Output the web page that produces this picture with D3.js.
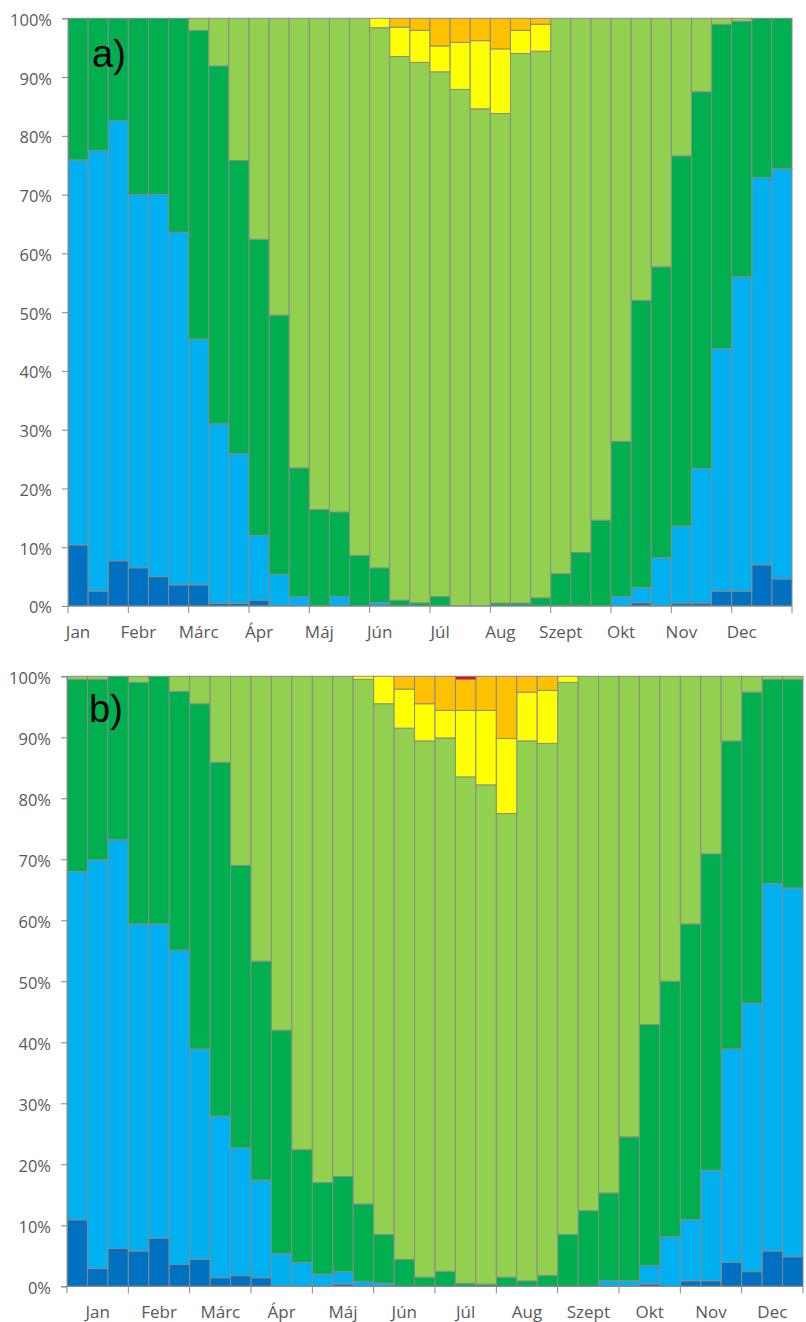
<!DOCTYPE html>
<html>
<head>
<meta charset="utf-8">
<script src="https://cdn.jsdelivr.net/npm/d3@7"></script>
<style>
  html, body { margin: 0; padding: 0; background: #ffffff; }
  svg { display: block; }
  .ylab, .xlab { font-family: "Open Sans", sans-serif; fill: #595959; }
  .panel-tag { font-family: "Liberation Sans", Arial, sans-serif; fill: #000; }
</style>
</head>
<body>
<svg id="chart" width="806" height="1322"></svg>
<script>
// Month labels along the x axis (three dekads per month)
const months = ["Jan", "Febr", "Márc", "Ápr", "Máj", "Jún", "Júl", "Aug", "Szept", "Okt", "Nov", "Dec"];
const dekads = d3.range(36);
const yTicks = [0, 10, 20, 30, 40, 50, 60, 70, 80, 90, 100];

// Class order from the bottom of each bar to the top
const classKeys = ["darkBlue", "lightBlue", "darkGreen", "lightGreen", "yellow", "orange", "red"];
const classColors = ["#0070C0", "#00B0F0", "#00B050", "#92D050", "#FFFF00", "#FFC000", "#FF0000"];

// Panel a) shares per dekad (%)
const aDarkBlue = [10.4, 2.55, 7.7, 6.5, 5.0, 3.6, 3.6, 0.45, 0.45, 1.0, 0, 0,
  0, 0, 0, 0, 0, 0, 0, 0, 0, 0, 0, 0,
  0, 0, 0, 0, 0.55, 0, 0.5, 0.5, 2.55, 2.55, 7.0, 4.6];
const aLightBlue = [65.5, 75.0, 74.9, 63.5, 65.0, 60.0, 41.8, 30.55, 25.45, 11.0, 5.4, 1.6,
  0, 1.6, 0, 0.6, 0, 0, 0, 0, 0, 0, 0, 0,
  0, 0, 0, 1.6, 2.55, 8.2, 13.1, 22.9, 41.25, 53.45, 65.9, 69.8];
const aDarkGreen = [24.1, 22.5, 17.4, 30.0, 30.0, 36.4, 52.55, 60.9, 49.9, 50.4, 44.1, 21.9,
  16.4, 14.4, 8.6, 5.9, 1.0, 0.55, 1.6, 0, 0, 0.5, 0.5, 1.4,
  5.5, 9.1, 14.6, 26.4, 48.9, 49.5, 63.0, 64.1, 55.2, 43.5, 27.1, 25.6];
const aLightGreen = [0, 0, 0, 0, 0, 0, 2.05, 8.1, 24.2, 37.6, 50.5, 76.5,
  83.6, 84.0, 91.4, 91.9, 92.5, 91.95, 89.3, 87.9, 84.6, 83.3, 93.5, 93.0,
  94.5, 90.9, 85.4, 72.0, 48.0, 42.3, 23.4, 12.5, 1.0, 0.5, 0, 0];
const aYellow = [0, 0, 0, 0, 0, 0, 0, 0, 0, 0, 0, 0,
  0, 0, 0, 1.6, 5.0, 5.45, 4.4, 8.0, 11.6, 11.0, 3.95, 4.6,
  0, 0, 0, 0, 0, 0, 0, 0, 0, 0, 0, 0];
const aOrange = [0, 0, 0, 0, 0, 0, 0, 0, 0, 0, 0, 0,
  0, 0, 0, 0, 1.5, 2.05, 4.7, 4.1, 3.8, 5.2, 2.05, 1.0,
  0, 0, 0, 0, 0, 0, 0, 0, 0, 0, 0, 0];
const aRed = [0, 0, 0, 0, 0, 0, 0, 0, 0, 0, 0, 0,
  0, 0, 0, 0, 0, 0, 0, 0, 0, 0, 0, 0,
  0, 0, 0, 0, 0, 0, 0, 0, 0, 0, 0, 0];

// Panel b) shares per dekad (%)
const bDarkBlue = [10.9, 2.9, 6.2, 5.8, 7.9, 3.6, 4.4, 1.4, 1.75, 1.4, 0, 0,
  0, 0.4, 0, 0, 0, 0, 0, 0, 0, 0, 0, 0,
  0, 0, 0, 0, 0.4, 0, 0.9, 0.9, 3.9, 2.4, 5.8, 4.85];
const bLightBlue = [57.1, 67.0, 67.0, 53.6, 51.5, 51.5, 34.5, 26.5, 20.95, 16.0, 5.35, 3.9,
  2.0, 2.0, 0.8, 0.5, 0, 0, 0, 0, 0, 0, 0, 0,
  0, 0, 0.9, 0.9, 3.0, 8.1, 10.0, 18.1, 35.0, 44.0, 60.2, 60.45];
const bDarkGreen = [31.5, 29.6, 26.8, 39.6, 40.6, 42.4, 56.6, 58.0, 46.3, 35.9, 36.65, 18.5,
  15.0, 15.6, 12.7, 8.0, 4.4, 1.5, 2.45, 0.5, 0.35, 1.5, 0.9, 1.8,
  8.5, 12.4, 14.4, 23.6, 39.5, 41.9, 48.5, 51.9, 50.5, 51.0, 33.5, 34.2];
const bLightGreen = [0.5, 0.5, 0, 1.0, 0, 2.5, 4.5, 14.1, 31.0, 46.7, 58.0, 77.6,
  83.0, 82.0, 86.0, 87.0, 87.1, 87.9, 87.45, 83.0, 81.85, 76.0, 88.5, 87.2,
  90.5, 87.6, 84.7, 75.5, 57.1, 50.0, 40.6, 29.1, 10.6, 2.6, 0.5, 0.5];
const bYellow = [0, 0, 0, 0, 0, 0, 0, 0, 0, 0, 0, 0,
  0, 0, 0.5, 4.5, 6.4, 6.1, 4.5, 10.9, 12.2, 12.3, 8.0, 8.7,
  1.0, 0, 0, 0, 0, 0, 0, 0, 0, 0, 0, 0];
const bOrange = [0, 0, 0, 0, 0, 0, 0, 0, 0, 0, 0, 0,
  0, 0, 0, 0, 2.1, 4.5, 5.6, 5.1, 5.6, 10.2, 2.6, 2.3,
  0, 0, 0, 0, 0, 0, 0, 0, 0, 0, 0, 0];
const bRed = [0, 0, 0, 0, 0, 0, 0, 0, 0, 0, 0, 0,
  0, 0, 0, 0, 0, 0, 0, 0.5, 0, 0, 0, 0,
  0, 0, 0, 0, 0, 0, 0, 0, 0, 0, 0, 0];

function buildRows(series) {
  return dekads.map(i => {
    const row = { dekad: i };
    classKeys.forEach((k, j) => { row[k] = series[j][i]; });
    return row;
  });
}

const svg = d3.select("#chart");
const color = d3.scaleOrdinal().domain(classKeys).range(classColors);
const axisGrey = "#868686";

function drawPanel(cfg) {
  const rows = buildRows(cfg.series);
  const stacked = d3.stack().keys(classKeys).offset(d3.stackOffsetExpand)(rows);

  const x = d3.scaleBand().domain(dekads).range([cfg.left, cfg.right]).padding(0);
  const y = d3.scaleLinear().domain([0, 1]).range([cfg.bottom, cfg.top]);
  const bw = x.bandwidth();

  const g = svg.append("g");

  // stacked bars
  g.selectAll("g.layer")
    .data(stacked)
    .join("g")
    .attr("class", "layer")
    .attr("fill", d => color(d.key))
    .selectAll("rect")
    .data(d => d.filter(s => s[1] - s[0] > 1e-6))
    .join("rect")
    .attr("x", d => x(d.data.dekad))
    .attr("y", d => y(d[1]))
    .attr("width", bw)
    .attr("height", d => y(d[0]) - y(d[1]))
    .attr("stroke", "#8a8a8a")
    .attr("stroke-width", 1);

  // y axis
  const yAxis = d3.axisLeft(y)
    .tickValues(yTicks.map(v => v / 100))
    .tickFormat(d3.format(".0%"))
    .tickSize(6)
    .tickPadding(10);
  const ya = g.append("g").attr("transform", `translate(${cfg.left},0)`).call(yAxis);
  ya.select(".domain").attr("stroke", axisGrey);
  ya.selectAll(".tick line").attr("stroke", axisGrey);
  ya.selectAll(".tick text")
    .attr("class", "ylab")
    .attr("dy", "0.42em")
    .style("font-size", "16.5px");

  // x axis: baseline, month separators, month names
  const xa = g.append("g");
  xa.append("line")
    .attr("x1", cfg.left).attr("x2", cfg.right)
    .attr("y1", cfg.bottom).attr("y2", cfg.bottom)
    .attr("stroke", axisGrey);
  const bounds = d3.range(0, 37, 3).map(i => (i < 36 ? x(i) : cfg.right));
  xa.selectAll("line.sep")
    .data(bounds)
    .join("line")
    .attr("class", "sep")
    .attr("x1", d => d).attr("x2", d => d)
    .attr("y1", cfg.bottom).attr("y2", cfg.bottom + 7)
    .attr("stroke", axisGrey);
  xa.selectAll("text.xlab")
    .data(months)
    .join("text")
    .attr("class", "xlab")
    .attr("x", (m, i) => x(i * 3) + (cfg.centredLabels ? 1.5 * bw : 0.5 * bw))
    .attr("y", cfg.bottom + 32)
    .attr("text-anchor", "middle")
    .style("font-size", "17px")
    .text(m => m);

  // panel tag
  g.append("text")
    .attr("class", "panel-tag")
    .attr("x", cfg.tagX)
    .attr("y", cfg.tagY)
    .style("font-size", "38px")
    .text(cfg.tag);
}

drawPanel({
  series: [aDarkBlue, aLightBlue, aDarkGreen, aLightGreen, aYellow, aOrange, aRed],
  left: 68, right: 792, top: 18.3, bottom: 606,
  centredLabels: false,
  tag: "a)", tagX: 92, tagY: 67
});

drawPanel({
  series: [bDarkBlue, bLightBlue, bDarkGreen, bLightGreen, bYellow, bOrange, bRed],
  left: 67, right: 803, top: 676.3, bottom: 1286.3,
  centredLabels: true,
  tag: "b)", tagX: 89, tagY: 722
});
</script>
</body>
</html>
